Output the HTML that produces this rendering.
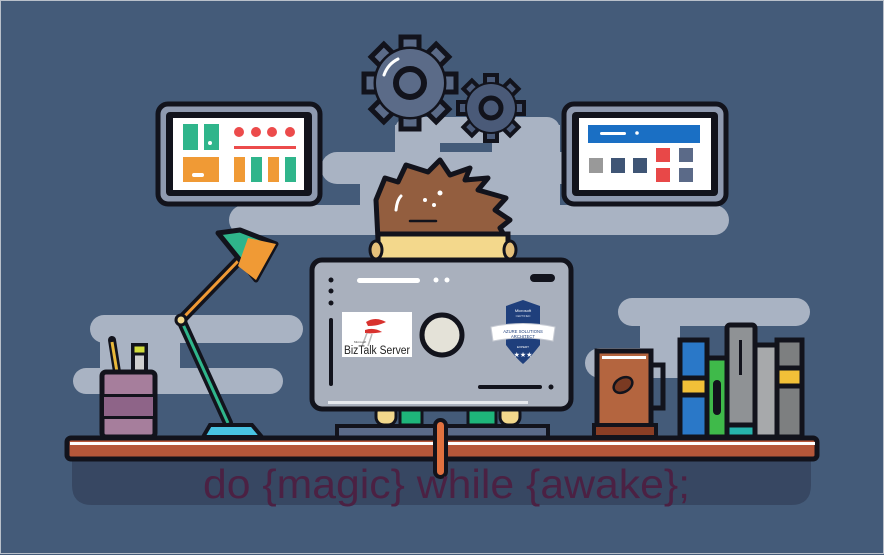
<!DOCTYPE html>
<html><head><meta charset="utf-8"><style>
html,body{margin:0;padding:0;background:#445b79;}
svg{display:block}
</style></head><body>
<svg width="884" height="555" viewBox="0 0 884 555" xmlns="http://www.w3.org/2000/svg" font-family="Liberation Sans, sans-serif">
<rect x="0" y="0" width="884" height="555" fill="#445b79"/>
<rect x="0.5" y="0.5" width="883" height="553" fill="none" stroke="#b9c0ca" stroke-width="1"/>
<!-- clouds -->
<g fill="#a9b3c3">
<rect x="395" y="117" width="165" height="26" rx="13"/>
<rect x="395" y="125" width="45" height="40"/>
<rect x="492" y="125" width="68" height="30"/>
<rect x="321" y="152" width="300" height="32" rx="16"/>
<rect x="229" y="205" width="500" height="30" rx="15"/>
<rect x="360" y="180" width="200" height="30"/>
<rect x="90" y="315" width="213" height="28" rx="14"/>
<rect x="73" y="368" width="210" height="26" rx="13"/>
<rect x="100" y="335" width="80" height="40"/>
<rect x="618" y="298" width="192" height="28" rx="14"/>
<rect x="585" y="348" width="115" height="30" rx="15"/>
<rect x="640" y="315" width="40" height="40"/>
</g>
<!-- gears -->
<g transform="translate(410,83)">
<g fill="#5b6b88" stroke="#12131c" stroke-width="5">
<g id="t1"><rect x="-9" y="-46" width="18" height="16"/></g>
<use href="#t1" transform="rotate(45)"/><use href="#t1" transform="rotate(90)"/><use href="#t1" transform="rotate(135)"/><use href="#t1" transform="rotate(180)"/><use href="#t1" transform="rotate(225)"/><use href="#t1" transform="rotate(270)"/><use href="#t1" transform="rotate(315)"/>
<circle r="34"/>
</g>
<circle r="34" fill="#5b6b88"/>
<circle r="14" fill="none" stroke="#12131c" stroke-width="6"/>
<path d="M-26,-8 A28,28 0 0 1 -12,-24" stroke="#fff" stroke-width="3" fill="none" stroke-linecap="round"/>
</g>
<g transform="translate(491,108)">
<g fill="#4a5a78" stroke="#12131c" stroke-width="4">
<g id="t2"><rect x="-6" y="-33" width="12" height="12"/></g>
<use href="#t2" transform="rotate(45)"/><use href="#t2" transform="rotate(90)"/><use href="#t2" transform="rotate(135)"/><use href="#t2" transform="rotate(180)"/><use href="#t2" transform="rotate(225)"/><use href="#t2" transform="rotate(270)"/><use href="#t2" transform="rotate(315)"/>
<circle r="24"/>
</g>
<circle r="24" fill="#4a5a78"/>
<circle r="10" fill="none" stroke="#12131c" stroke-width="5"/>
</g>
<!-- left monitor -->
<rect x="158" y="104" width="162" height="100" rx="10" fill="#8f9ab0" stroke="#12131c" stroke-width="5"/>
<rect x="166" y="112" width="146" height="84" rx="4" fill="#12131c"/>
<rect x="173" y="118" width="131" height="72" fill="#fff"/>
<rect x="183" y="124" width="15" height="26" fill="#2fb58b"/>
<rect x="204" y="124" width="15" height="26" fill="#2fb58b"/>
<circle cx="210" cy="143" r="2" fill="#fff"/>
<rect x="183" y="157" width="36" height="25" fill="#f09a35"/>
<rect x="192" y="173" width="12" height="4" rx="2" fill="#fff"/>
<g fill="#ec4b4b"><circle cx="239" cy="132" r="5"/><circle cx="256" cy="132" r="5"/><circle cx="272" cy="132" r="5"/><circle cx="290" cy="132" r="5"/><rect x="234" y="146" width="62" height="3"/></g>
<rect x="234" y="157" width="11" height="25" fill="#f09a35"/>
<rect x="251" y="157" width="11" height="25" fill="#2fb58b"/>
<rect x="268" y="157" width="11" height="25" fill="#f09a35"/>
<rect x="285" y="157" width="11" height="25" fill="#2fb58b"/>
<!-- right monitor -->
<rect x="564" y="104" width="162" height="100" rx="10" fill="#8f9ab0" stroke="#12131c" stroke-width="5"/>
<rect x="572" y="112" width="146" height="84" rx="4" fill="#12131c"/>
<rect x="579" y="118" width="132" height="72" fill="#fff"/>
<rect x="588" y="125" width="112" height="18" fill="#1a6fc4"/>
<rect x="600" y="132" width="26" height="3" rx="1.5" fill="#fff"/><circle cx="637" cy="133" r="1.8" fill="#fff"/>
<rect x="589" y="158" width="14" height="15" fill="#999"/>
<rect x="611" y="158" width="14" height="15" fill="#3f5575"/>
<rect x="633" y="158" width="14" height="15" fill="#3f5575"/>
<rect x="656" y="148" width="14" height="14" fill="#e84848"/>
<rect x="679" y="148" width="14" height="14" fill="#5b6a88"/>
<rect x="656" y="168" width="14" height="14" fill="#e84848"/>
<rect x="679" y="168" width="14" height="14" fill="#5b6a88"/>
<!-- head -->
<path d="M378,240 L376,200 L385,178 L398,182 L406,165 L428,172 L440,160 L450,175 L470,168 L465,180 L488,178 L478,190 L506,198 L495,210 L510,220 L500,228 L507,240 Z" fill="#935e3f" stroke="#12131c" stroke-width="5" stroke-linejoin="round"/>
<rect x="378" y="234" width="130" height="28" fill="#f3d88c" stroke="#12131c" stroke-width="5"/>
<ellipse cx="376" cy="250" rx="6" ry="9" fill="#e5c07a" stroke="#12131c" stroke-width="3"/>
<ellipse cx="510" cy="250" rx="6" ry="9" fill="#e5c07a" stroke="#12131c" stroke-width="3"/>
<path d="M396,210 Q397,200 401,196" stroke="#fff" stroke-width="3" fill="none" stroke-linecap="round"/>
<circle cx="440" cy="193" r="2.5" fill="#fff"/><circle cx="425" cy="200" r="2" fill="#fff"/><circle cx="434" cy="205" r="2" fill="#fff"/>
<line x1="410" y1="221" x2="436" y2="221" stroke="#12131c" stroke-width="2.5" stroke-linecap="round"/>
<!-- legs/stand -->
<rect x="337" y="426" width="211" height="12" fill="#5b6a88" stroke="#12131c" stroke-width="4"/>
<rect x="376" y="405" width="20" height="20" rx="8" fill="#f3d88c" stroke="#12131c" stroke-width="3"/>
<rect x="500" y="405" width="20" height="20" rx="8" fill="#f3d88c" stroke="#12131c" stroke-width="3"/>
<rect x="400" y="405" width="22" height="20" fill="#1eb57a" stroke="#12131c" stroke-width="3"/>
<rect x="468" y="405" width="28" height="20" fill="#1eb57a" stroke="#12131c" stroke-width="3"/>
<!-- central monitor -->
<rect x="312" y="260" width="259" height="149" rx="10" fill="#a9b0bd" stroke="#12131c" stroke-width="5"/>
<rect x="328" y="401" width="200" height="3" fill="#e6e9ee"/>
<g fill="#12131c"><circle cx="331" cy="280" r="2.5"/><circle cx="331" cy="291" r="2.5"/><circle cx="331" cy="303" r="2.5"/>
<rect x="329" y="318" width="4" height="68" rx="2"/>
<rect x="530" y="274" width="25" height="8" rx="4"/>
<rect x="478" y="385" width="64" height="4" rx="2"/><circle cx="551" cy="387" r="2.5"/></g>
<rect x="357" y="278" width="63" height="5" rx="2.5" fill="#fff"/>
<circle cx="436" cy="280" r="2.5" fill="#fff"/><circle cx="447" cy="280" r="2.5" fill="#fff"/>
<circle cx="442" cy="335" r="20" fill="#e4e2d8" stroke="#12131c" stroke-width="5"/>
<!-- biztalk -->
<rect x="342" y="312" width="70" height="45" fill="#fff"/>
<path d="M366,322 Q375,316 386,322 Q378,326 368,326 Z M365,330 Q374,327 382,332 Q372,334 365,333 Z" fill="#d8322e"/>
<path d="M367,333 L362,346 M372,334 L368,346" stroke="#b8b8b8" stroke-width="1.5"/>
<text x="354" y="343" font-size="3" fill="#444">Microsoft</text>
<text x="344" y="354" font-size="11.5" fill="#222" textLength="66" lengthAdjust="spacingAndGlyphs">BizTalk Server</text>
<!-- azure badge -->
<path d="M506,306 L523,300 L540,306 L540,345 Q530,358 523,364 Q516,358 506,345 Z" fill="#1f3f7c"/>
<text x="523" y="312" font-size="4" fill="#fff" text-anchor="middle">Microsoft</text>
<text x="523" y="317" font-size="2.8" fill="#cfd8ea" text-anchor="middle">CERTIFIED</text>
<path d="M491,327 Q523,320 555,327 L553,341 Q523,335 493,341 Z" fill="#fff" stroke="#c8ccd4" stroke-width="1"/>
<text x="523" y="333" font-size="4.2" fill="#1f3f7c" text-anchor="middle">AZURE SOLUTIONS</text>
<text x="523" y="338" font-size="4.2" fill="#1f3f7c" text-anchor="middle">ARCHITECT</text>
<text x="523" y="348" font-size="3" fill="#fff" text-anchor="middle">EXPERT</text>
<text x="523" y="357" font-size="7" fill="#fff" text-anchor="middle">★★★</text>
<!-- lamp -->
<line x1="228" y1="423" x2="181" y2="320" stroke="#12131c" stroke-width="10" stroke-linecap="round"/>
<line x1="228" y1="423" x2="181" y2="320" stroke="#2fb58b" stroke-width="3"/>
<line x1="181" y1="320" x2="241" y2="258" stroke="#12131c" stroke-width="10" stroke-linecap="round"/>
<line x1="181" y1="320" x2="241" y2="258" stroke="#f09a35" stroke-width="3"/>
<circle cx="181" cy="320" r="5" fill="#f3d88c" stroke="#12131c" stroke-width="3"/>
<path d="M218,233 L240,230 L276,244 L256,280 Z" fill="#2fb58b" stroke="#12131c" stroke-width="5" stroke-linejoin="round"/>
<path d="M248,238 L276,244 L256,280 L238,266 Z" fill="#f09a35"/>
<path d="M203,437 L210,425 L252,425 L262,437 Z" fill="#48c3e2" stroke="#12131c" stroke-width="4"/>
<!-- pencil cup -->
<line x1="112" y1="340" x2="117" y2="372" stroke="#12131c" stroke-width="8" stroke-linecap="round"/>
<line x1="112" y1="342" x2="117" y2="372" stroke="#e9b83a" stroke-width="3"/>
<rect x="133" y="345" width="13" height="28" fill="#cfcfcf" stroke="#12131c" stroke-width="4"/>
<rect x="133" y="345" width="13" height="9" fill="#d2dc3c" stroke="#12131c" stroke-width="3"/>
<rect x="102" y="372" width="53" height="65" rx="4" fill="#a67e9c" stroke="#12131c" stroke-width="5"/>
<rect x="102" y="394" width="53" height="3" fill="#12131c"/><rect x="102" y="416" width="53" height="3" fill="#12131c"/>
<rect x="104" y="397" width="49" height="19" fill="#8e6488"/>
<!-- mug -->
<path d="M650,365 L663,365 L663,408 L650,408" fill="none" stroke="#12131c" stroke-width="5"/>
<rect x="597" y="351" width="54" height="76" fill="#b4653f" stroke="#12131c" stroke-width="5"/>
<rect x="602" y="356" width="44" height="3" fill="#fff"/>
<ellipse cx="623" cy="385" rx="10" ry="7" fill="#7a3a22" stroke="#12131c" stroke-width="2.5" transform="rotate(-30 623 385)"/>
<rect x="594" y="425" width="62" height="12" fill="#8a3e25" stroke="#12131c" stroke-width="4"/>
<!-- books -->
<g stroke="#12131c" stroke-width="5">
<rect x="680" y="340" width="27" height="97" fill="#2a78c8"/>
<rect x="680" y="378" width="27" height="17" fill="#f2c038"/>
<rect x="707" y="358" width="20" height="79" fill="#3fba4a"/>
<rect x="727" y="325" width="28" height="112" fill="#8f9295" rx="3"/>
<rect x="727" y="425" width="28" height="12" fill="#27b4ad"/>
<rect x="755" y="345" width="22" height="92" fill="#a7a9ab"/>
<rect x="777" y="340" width="25" height="97" fill="#7d7f80"/>
<rect x="777" y="368" width="25" height="18" fill="#f2c038"/>
</g>
<rect x="713" y="380" width="8" height="35" rx="4" fill="#12131c"/>
<rect x="739" y="340" width="3" height="35" fill="#12131c"/>
<!-- desk shadow -->
<path d="M72,460 L811,460 L811,485 Q811,505 791,505 L92,505 Q72,505 72,485 Z" fill="#374762"/>
<!-- desk -->
<rect x="67" y="438" width="750" height="21" rx="4" fill="#b5573a" stroke="#12131c" stroke-width="5"/>
<rect x="70" y="442" width="745" height="3" fill="#fff"/>
<rect x="435" y="420" width="11" height="57" rx="5.5" fill="#e0713f" stroke="#12131c" stroke-width="4"/>
<text x="203" y="498" font-size="41" fill="#4b2143" textLength="487" lengthAdjust="spacingAndGlyphs">do {magic} while {awake};</text>
</svg>
</body></html>
